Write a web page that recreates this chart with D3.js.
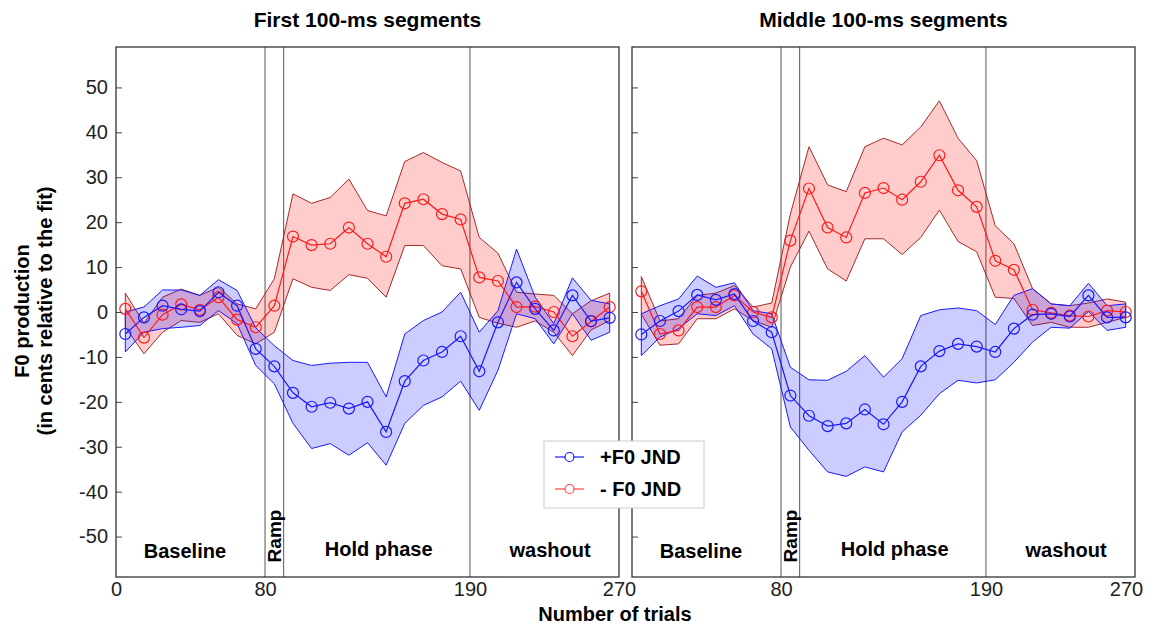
<!DOCTYPE html>
<html>
<head>
<meta charset="utf-8">
<script src="https://cdn.jsdelivr.net/npm/d3@7"></script>
<style>
  body { margin: 0; background: #fff; }
  svg { font-family: "Liberation Sans", Arial, sans-serif; }
</style>
</head>
<body>
<div id="graph-container"></div>
<script>
// trial numbers of each 10-trial bin
var trials = [5, 15, 25, 35, 45, 55, 65, 75, 85, 95, 105, 115, 125, 135, 145, 155, 165, 175, 185, 195, 205, 215, 225, 235, 245, 255, 265];

// First 100-ms segments
var firstPlus      = [-4.9, -1.2, 1.4, 0.6, 0.2, 4.4, 1.4, -8.2, -12.1, -18.0, -21.1, -20.2, -21.5, -20.0, -26.7, -15.4, -10.8, -8.9, -5.4, -13.2, -2.3, 6.6, 0.7, -4.1, 3.7, -2.0, -1.3];
var firstPlusUp    = [0.0, 1.1, 4.9, 4.9, 3.7, 7.2, 4.8, -3.5, -7.5, -10.8, -11.9, -11.4, -11.2, -11.2, -18.9, -4.9, -1.9, 0.0, 4.4, -4.5, 0.3, 14.0, 3.3, -2.6, 7.6, 2.6, 1.8];
var firstPlusLow   = [-8.9, -4.5, -3.7, -3.4, -3.0, 0.3, -2.6, -11.9, -16.0, -24.8, -30.4, -29.3, -31.9, -29.1, -34.1, -24.8, -20.8, -18.9, -15.4, -21.9, -13.0, -0.4, -1.5, -7.1, -0.4, -6.3, -4.5];
var firstMinus     = [0.7, -5.7, -0.6, 1.7, 0.5, 3.3, -1.7, -3.4, 1.4, 16.8, 14.9, 15.2, 18.8, 15.2, 12.3, 24.2, 25.1, 21.8, 20.6, 7.7, 6.9, 1.1, 1.2, 0.0, -5.4, -2.1, 1.1];
var firstMinusUp   = [4.2, -2.5, 3.3, 5.1, 3.7, 5.5, 1.8, 0.7, 7.4, 26.3, 24.2, 25.5, 29.6, 22.6, 21.4, 33.5, 35.5, 33.3, 31.4, 16.6, 13.1, 4.4, 4.0, 3.7, -0.4, 2.5, 4.2];
var firstMinusLow  = [-3.4, -9.3, -4.5, -1.9, -2.3, -0.4, -5.2, -7.1, -4.5, 7.4, 5.5, 4.8, 8.3, 7.5, 3.3, 14.8, 14.8, 10.3, 9.6, -1.2, -2.5, -3.4, -2.0, -4.5, -9.7, -4.0, -1.9];

// Middle 100-ms segments
var middlePlus     = [-5.0, -2.0, 0.2, 3.8, 2.7, 4.0, -2.0, -4.5, -18.6, -23.1, -25.4, -24.8, -21.7, -25.0, -20.0, -12.1, -8.7, -7.1, -7.7, -8.9, -3.7, -0.6, -0.4, -1.0, 3.7, -1.2, -1.2];
var middlePlusUp   = [-0.4, 1.4, 2.9, 8.0, 5.5, 6.5, 0.3, -0.4, -12.3, -15.1, -15.2, -13.2, -9.7, -14.5, -10.4, -0.8, 0.5, 0.9, 0.3, -2.8, 3.7, 5.2, 1.8, 1.4, 6.4, 1.4, 1.8];
var middlePlusLow  = [-9.7, -5.6, -3.7, -0.4, -0.8, 1.4, -4.9, -8.2, -25.6, -30.8, -35.6, -36.6, -34.5, -35.6, -26.7, -23.0, -18.2, -15.2, -15.8, -15.1, -11.2, -6.7, -3.4, -3.6, 0.1, -4.1, -3.4];
var middleMinus    = [4.6, -4.9, -4.1, 1.1, 1.1, 3.7, 0.0, -1.2, 15.9, 27.5, 18.8, 16.6, 26.5, 27.6, 25.0, 29.0, 34.9, 27.1, 23.4, 11.4, 9.4, 0.5, -0.2, -0.8, -1.0, 0.3, 0.0];
var middleMinusUp  = [7.9, -2.0, -1.5, 3.7, 4.2, 5.9, 1.1, 2.0, 21.8, 36.8, 28.3, 26.8, 36.8, 38.7, 37.2, 41.2, 47.0, 38.7, 33.7, 19.2, 15.2, 5.2, 1.8, 1.4, 2.0, 2.9, 2.2];
var middleMinusLow = [-0.5, -7.4, -7.1, -1.5, -1.5, 0.7, -1.9, -3.4, 10.0, 18.0, 9.6, 6.9, 16.3, 16.3, 12.8, 16.6, 22.7, 15.7, 13.4, 3.3, 3.0, -3.0, -2.3, -3.4, -3.4, -2.3, -1.2];

var panelTitles = ["First 100-ms segments", "Middle 100-ms segments"];
var phaseBounds = [80, 90, 190];
var xTickValues = [0, 80, 190, 270];
var yTickValues = [-50, -40, -30, -20, -10, 0, 10, 20, 30, 40, 50];
var seriesNames = ["+F0 JND", "- F0 JND"];

var panels = [
    {title: panelTitles[0], plus: firstPlus, plusUp: firstPlusUp, plusLow: firstPlusLow,
     minus: firstMinus, minusUp: firstMinusUp, minusLow: firstMinusLow},
    {title: panelTitles[1], plus: middlePlus, plusUp: middlePlusUp, plusLow: middlePlusLow,
     minus: middleMinus, minusUp: middleMinusUp, minusLow: middleMinusLow}
];

var width = 1158, height = 627;
var panelLeft = [116, 632];
var panelW = 503, plotTop = 47, plotH = 530;

var svg = d3.select("#graph-container").append("svg")
    .attr("width", width).attr("height", height);

var x = d3.scaleLinear().domain([0, 270]).range([0, panelW]);
var y = d3.scaleLinear().domain([-59, 59]).range([plotH, 0]);

var blue = "#1a1aff", red = "#ff1a1a";

panels.forEach(function(p, i) {
    var g = svg.append("g").attr("transform", "translate(" + panelLeft[i] + "," + plotTop + ")");

    // phase separators
    g.selectAll(".phase").data(phaseBounds).join("line")
        .attr("x1", d => x(d)).attr("x2", d => x(d))
        .attr("y1", 0).attr("y2", plotH)
        .attr("stroke", "#555").attr("stroke-width", 1);

    function band(up, low) {
        return d3.area()
            .x((d, k) => x(trials[k]))
            .y0((d, k) => y(low[k]))
            .y1((d, k) => y(up[k]))(trials);
    }
    g.append("path").attr("d", band(p.minusUp, p.minusLow))
        .attr("fill", "rgba(255,0,0,0.2)").attr("stroke", "#a52a2a").attr("stroke-width", 1);
    g.append("path").attr("d", band(p.plusUp, p.plusLow))
        .attr("fill", "rgba(0,0,255,0.2)").attr("stroke", blue).attr("stroke-width", 1);

    var line = d3.line().x((d, k) => x(trials[k])).y(d => y(d));
    [[p.minus, red], [p.plus, blue]].forEach(function(s) {
        g.append("path").attr("d", line(s[0]))
            .attr("fill", "none").attr("stroke", s[1]).attr("stroke-width", 1.2);
        g.selectAll(null).data(s[0]).join("circle")
            .attr("cx", (d, k) => x(trials[k])).attr("cy", d => y(d))
            .attr("r", 5.5).attr("fill", "none").attr("stroke", s[1]).attr("stroke-width", 1.2);
    });

    // axes (plain hyphen for negatives, like the original)
    var ya = g.append("g").call(d3.axisLeft(y).tickValues(yTickValues)
        .tickFormat(d => String(d)).tickSize(-6).tickPadding(8));
    ya.select(".domain").remove();
    ya.selectAll("line").attr("stroke", "#444");
    ya.selectAll("text").style("font-size", "20px").attr("fill", "#222");
    if (i === 1) ya.selectAll("text").remove();

    var xa = g.append("g").attr("transform", "translate(0," + plotH + ")")
        .call(d3.axisBottom(x).tickValues(xTickValues).tickSize(0).tickPadding(5));
    xa.select(".domain").remove();
    xa.selectAll("text").style("font-size", "20px").attr("fill", "#222");
    if (i === 1) {
        xa.selectAll(".tick").filter(d => d === 0).remove();
        xa.selectAll(".tick").filter(d => d === 270).select("text").attr("dx", -9);
    }

    g.append("rect").attr("width", panelW).attr("height", plotH)
        .attr("fill", "none").attr("stroke", "#333").attr("stroke-width", 1.3);

    // title
    g.append("text").attr("x", panelW / 2).attr("y", -20)
        .attr("text-anchor", "middle").style("font-size", "21px").style("font-weight", "bold")
        .text(p.title);

    // phase labels
    var lab = g.append("g").style("font-size", "20px").style("font-weight", "bold").attr("text-anchor", "middle");
    lab.append("text").attr("x", x(37)).attr("y", 511).text("Baseline");
    lab.append("text").attr("x", x(141)).attr("y", 509).text("Hold phase");
    lab.append("text").attr("x", x(233)).attr("y", 510).text("washout");
    lab.append("text").attr("transform", "translate(" + (x(85) + 7) + ",489) rotate(-90)")
        .style("font-size", "19px").text("Ramp");
});

// axis titles
svg.append("text").attr("x", 615).attr("y", 621).attr("text-anchor", "middle")
    .style("font-size", "20px").style("font-weight", "bold").text("Number of trials");
var yl = svg.append("g").attr("transform", "translate(29,311) rotate(-90)")
    .style("font-size", "20px").style("font-weight", "bold").attr("text-anchor", "middle");
yl.append("text").attr("y", 0).text("F0 production");
yl.append("text").attr("y", 23).text("(in cents relative to the fit)");

// legend
var lg = svg.append("g").attr("transform", "translate(544,441)");
lg.append("rect").attr("width", 160).attr("height", 67)
    .attr("fill", "#fff").attr("stroke", "#ccc").attr("stroke-width", 1);
[[seriesNames[0], blue], [seriesNames[1], "#ff4444"]].forEach(function(s, k) {
    var row = lg.append("g").attr("transform", "translate(0," + (16 + k * 32) + ")");
    row.append("line").attr("x1", 11).attr("x2", 40).attr("stroke", s[1]).attr("stroke-width", 1.2);
    row.append("circle").attr("cx", 25.5).attr("r", 4.5).attr("fill", "#fff").attr("stroke", s[1]).attr("stroke-width", 1.2);
    row.append("text").attr("x", 56).attr("y", 7).style("font-size", "20px").style("font-weight", "bold").text(s[0]);
});
</script>
</body>
</html>
